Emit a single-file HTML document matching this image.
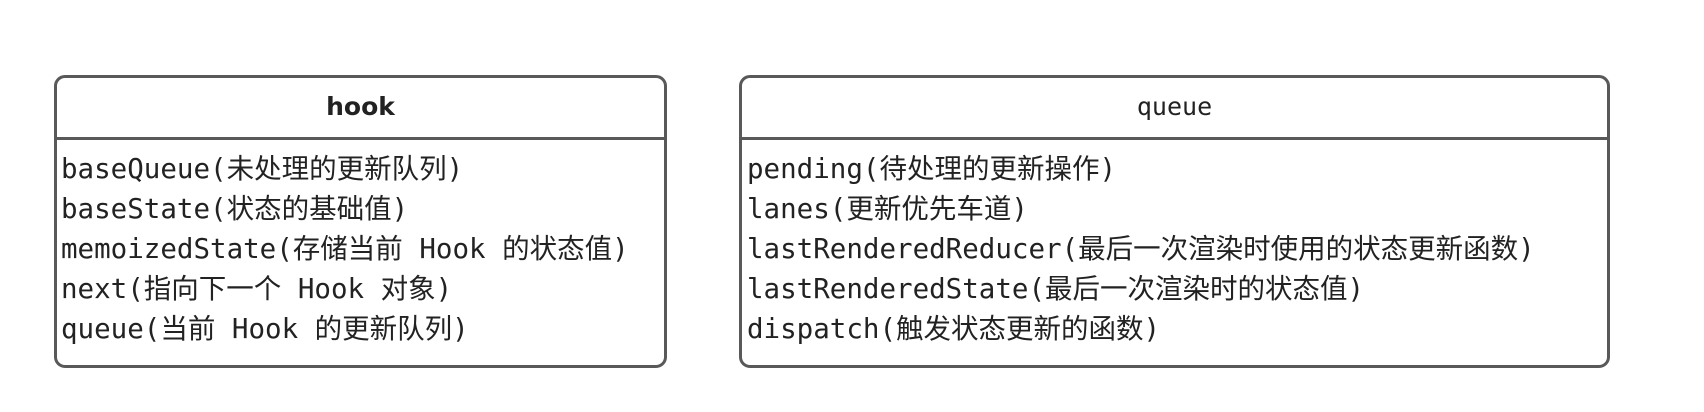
<!DOCTYPE html>
<html><head><meta charset="utf-8"><style>
body{margin:0;width:1704px;height:412px;background:#fff;position:relative;overflow:hidden}
.box{position:absolute;top:75px;height:287px;border:3px solid #595959;border-radius:11px;box-sizing:content-box}
.hd{height:59px;border-bottom:3px solid #595959;text-align:center;line-height:58px;font-family:"DejaVu Sans","Liberation Sans",sans-serif;font-size:25px;color:#222}
.bd{padding:9px 0 0 4px;font-family:"DejaVu Sans Mono","Liberation Mono","Noto Sans CJK SC",monospace;font-size:27.5px;line-height:40px;color:#222;white-space:nowrap}
</style></head><body>
<div class="box" style="left:54px;width:607px">
<div class="hd" style="font-weight:bold">hook</div>
<div class="bd">baseQueue(未处理的更新队列)<br>baseState(状态的基础值)<br>memoizedState(存储当前 Hook 的状态值)<br>next(指向下一个 Hook 对象)<br>queue(当前 Hook 的更新队列)</div>
</div>
<div class="box" style="left:739px;width:865px">
<div class="hd" style="font-family:'DejaVu Sans Mono',monospace">queue</div>
<div class="bd" style="padding-left:5px">pending(待处理的更新操作)<br>lanes(更新优先车道)<br>lastRenderedReducer(最后一次渲染时使用的状态更新函数)<br>lastRenderedState(最后一次渲染时的状态值)<br>dispatch(触发状态更新的函数)</div>
</div>
</body></html>
